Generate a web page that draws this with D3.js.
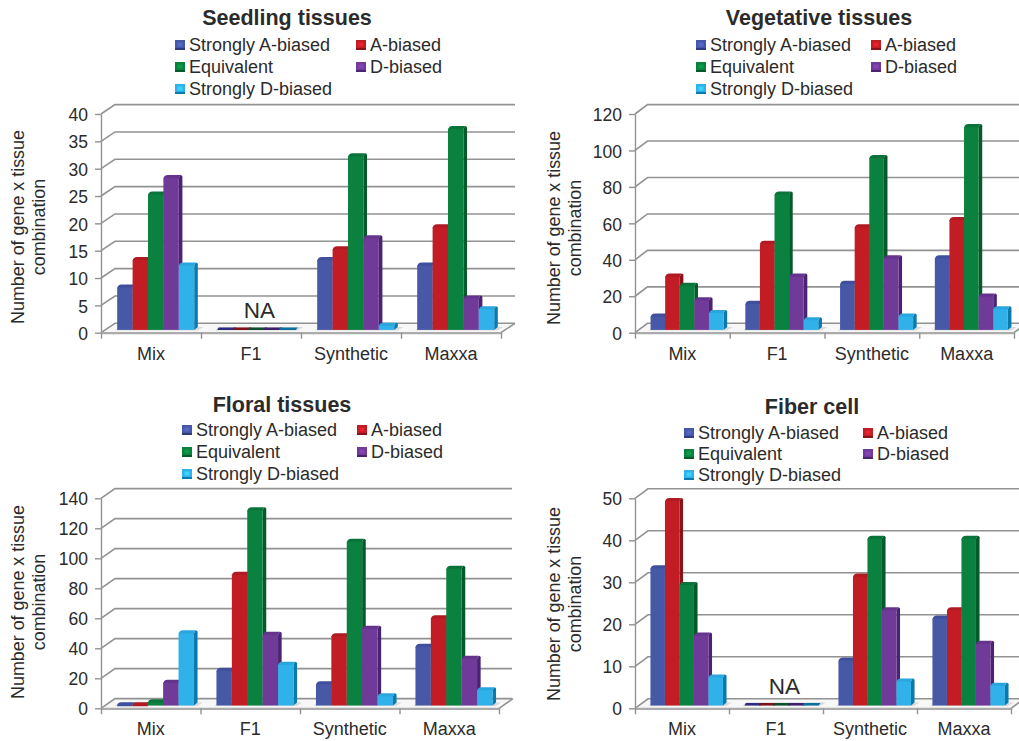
<!DOCTYPE html>
<html>
<head>
<meta charset="utf-8">
<script src="https://cdn.jsdelivr.net/npm/d3@7/dist/d3.min.js"></script>
<style>
html,body{margin:0;padding:0;background:#fff;}
svg{display:block;}
text{font-family:"Liberation Sans",Arial,sans-serif;fill:#2b2b2b;}
</style>
</head>
<body>
<svg id="chart" width="1019" height="741"></svg>
<script>
const categories = ["Mix", "F1", "Synthetic", "Maxxa"];
const seriesNames = ["Strongly A-biased", "A-biased", "Equivalent", "D-biased", "Strongly D-biased"];

// One row per category, one column per series.
const seedlingValues = [[8, 13, 25, 28, 12], [0, 0, 0, 0, 0], [13, 15, 32, 17, 1], [12, 19, 37, 6, 4]];
const vegetativeValues = [[8, 30, 25, 17, 10], [15, 48, 75, 30, 6], [26, 57, 95, 40, 8], [40, 61, 112, 19, 12]];
const floralValues = [[1, 1, 3, 16, 49], [24, 88, 131, 48, 28], [15, 47, 110, 52, 7], [40, 59, 92, 32, 11]];
const fiberValues = [[33, 49, 29, 17, 7], [0, 0, 0, 0, 0], [11, 31, 40, 23, 6], [21, 23, 40, 15, 5]];

const seedlingTicks = [0, 5, 10, 15, 20, 25, 30, 35, 40];
const vegetativeTicks = [0, 20, 40, 60, 80, 100, 120];
const floralTicks = [0, 20, 40, 60, 80, 100, 120, 140];
const fiberTicks = [0, 10, 20, 30, 40, 50];

const axisTitleLines = ["Number of gene x tissue", "combination"];

const fronts = ["#4658a6", "#c21d25", "#0a813f", "#703a99", "#30b1e9"];
const sides = ["#2e3b7e", "#8a1319", "#055a2b", "#4a2372", "#0a79ad"];
const caps = ["#3f4f9b", "#b01a22", "#0a7339", "#64338b", "#2aa6dd"];
const flats = ["#2d2a80", "#7d1018", "#0d4f2c", "#3f1f6b", "#0a6f9c"];

const panels = [
  { title: "Seedling tissues", values: seedlingValues, ticks: seedlingTicks, na: true,
    x0: 101, x1: 501, y0: 332.7, yTop: 114, dx: 14, dy: 9.4, gridEnd: 515, barW: 15.4,
    titleX: 287, titleY: 25, titleLabelX: [18.5, 40], titleLabelY: 227,
    swatch: [175, 356], legendY: [45, 67, 89], catY: 360 },
  { title: "Vegetative tissues", values: vegetativeValues, ticks: vegetativeTicks, na: false,
    x0: 635, x1: 1014, y0: 332.7, yTop: 114, dx: 12.5, dy: 9.4, gridEnd: 1019, barW: 14.6,
    titleX: 819, titleY: 25, titleLabelX: [554.5, 576], titleLabelY: 228,
    swatch: [696, 871], legendY: [45, 67, 89], catY: 360 },
  { title: "Floral tissues", values: floralValues, ticks: floralTicks, na: false,
    x0: 101, x1: 499, y0: 708.3, yTop: 498.3, dx: 14, dy: 9.7, gridEnd: 512, barW: 15.4,
    titleX: 282, titleY: 412, titleLabelX: [18.5, 40], titleLabelY: 602,
    swatch: [182, 357], legendY: [430, 452, 474], catY: 735 },
  { title: "Fiber cell", values: fiberValues, ticks: fiberTicks, na: true,
    x0: 635, x1: 1011, y0: 708.3, yTop: 498.3, dx: 13, dy: 9.5, gridEnd: 1019, barW: 14.5,
    titleX: 812, titleY: 414, titleLabelX: [554.5, 576], titleLabelY: 604,
    swatch: [684, 863], legendY: [433, 454, 475], catY: 735 }
];

const svg = d3.select("#chart");
const GRID = "#929292";
const FRONT_AXIS = "#ababab";

// Column with a rounded lid and a shaded right-hand face.
function drawBar(g, x, w, top, base, i, flat) {
  const sd = 3.6, lid = 3;
  if (flat) {
    const p = d3.path();
    p.moveTo(x, base);
    p.lineTo(x + 1.4, base - lid + 0.6);
    p.lineTo(x + w + sd, base - lid + 0.6);
    p.lineTo(x + w + 1.6, base);
    p.closePath();
    g.append("path").attr("d", p.toString()).attr("fill", flats[i]);
    return;
  }
  const side = d3.path();
  side.moveTo(x + w, base);
  side.lineTo(x + w + sd, base - lid);
  side.lineTo(x + w + sd, top - lid + 1.5);
  side.quadraticCurveTo(x + w + sd, top - lid, x + w + sd - 2, top - lid);
  side.lineTo(x + w, top);
  side.closePath();
  g.append("path").attr("d", side.toString()).attr("fill", sides[i]);

  const cap = d3.path();
  cap.moveTo(x, top + 1);
  cap.quadraticCurveTo(x + 0.5, top - lid, x + 4.5, top - lid);
  cap.lineTo(x + w + sd - 2, top - lid);
  cap.lineTo(x + w, top);
  cap.lineTo(x + w, top + 1);
  cap.closePath();
  g.append("path").attr("d", cap.toString()).attr("fill", caps[i]);

  g.append("rect")
    .attr("x", x).attr("y", top).attr("width", w).attr("height", Math.max(0, base - top))
    .attr("fill", fronts[i]);
}

function drawPanel(cfg) {
  const g = svg.append("g");
  const maxTick = d3.max(cfg.ticks);
  const y = d3.scaleLinear().domain([0, maxTick]).range([cfg.y0, cfg.yTop]);
  const xBand = d3.scaleBand().domain(categories).range([cfg.x0, cfg.x1]);
  const xEdge = d3.scaleLinear().domain([0, categories.length]).range([cfg.x0, cfg.x1]);
  const inner = d3.scaleBand().domain(d3.range(seriesNames.length))
    .range([0, cfg.barW * seriesNames.length]);

  // Floor of the box, lightly tinted.
  const floorShape = d3.line()([
    [cfg.x0, cfg.y0], [cfg.x1, cfg.y0],
    [cfg.x1 + cfg.dx, cfg.y0 - cfg.dy], [cfg.x0 + cfg.dx, cfg.y0 - cfg.dy]
  ]) + "Z";
  g.append("path").attr("d", floorShape).attr("fill", "#f7f7f7");

  // Back-wall gridlines with their diagonal run-ins from the value axis.
  cfg.ticks.forEach(t => {
    const py = y(t);
    g.append("path")
      .attr("d", d3.line()([[cfg.x0, py], [cfg.x0 + cfg.dx, py - cfg.dy], [cfg.gridEnd, py - cfg.dy]]))
      .attr("fill", "none").attr("stroke", GRID).attr("stroke-width", 1.6);
  });
  g.append("path")
    .attr("d", d3.line()([[cfg.x1, cfg.y0], [cfg.x1 + cfg.dx, cfg.y0 - cfg.dy]]))
    .attr("fill", "none").attr("stroke", GRID).attr("stroke-width", 1.6);

  // Value axis.
  const yAxis = g.append("g")
    .attr("transform", `translate(${cfg.x0},0)`)
    .call(d3.axisLeft(y).tickValues(cfg.ticks).tickSize(6).tickPadding(7).tickSizeOuter(0));
  yAxis.selectAll("path,line").attr("stroke", GRID).attr("stroke-width", 1.4);
  yAxis.selectAll("text").attr("font-size", 17.5).attr("fill", "#2b2b2b").attr("dy", "0.38em")
    .style("font-family", '"Liberation Sans",Arial,sans-serif');

  // Category axis: the labels sit mid-band, tick marks on the band edges.
  const edgeAxis = g.append("g")
    .attr("transform", `translate(0,${cfg.y0})`)
    .call(d3.axisBottom(xEdge).tickValues(d3.range(categories.length + 1)).tickSize(6)
      .tickFormat("").tickSizeOuter(0));
  edgeAxis.selectAll("path").attr("stroke", FRONT_AXIS).attr("stroke-width", 2.2);
  edgeAxis.selectAll("line").attr("stroke", GRID).attr("stroke-width", 1.4);

  const catAxis = g.append("g")
    .attr("transform", `translate(0,${cfg.catY - 13})`)
    .call(d3.axisBottom(xBand).tickSize(0).tickPadding(0));
  catAxis.select("path").remove();
  catAxis.selectAll("text").attr("font-size", 18).attr("fill", "#2b2b2b").attr("dy", "0.71em")
    .style("font-family", '"Liberation Sans",Arial,sans-serif');

  // Columns.
  const base = cfg.y0 - 2.8;
  const totalW = cfg.barW * seriesNames.length;
  cfg.values.forEach((row, c) => {
    const startX = xBand(categories[c]) + (xBand.bandwidth() - totalW) / 2 + 4.7;
    const gc = g.append("g");
    // Soft shadow on the floor around each cluster.
    gc.append("path")
      .attr("d", d3.line()([
        [startX - 2, base + 0.5], [startX + totalW + 3, base + 0.5],
        [startX + totalW + 9, base - 3], [startX + 2, base - 3]
      ]) + "Z")
      .attr("fill", "#d9d9d9");
    row.forEach((v, i) => {
      const top = Math.min(base, y(v) - 1.5);
      drawBar(gc, startX + inner(i), inner.bandwidth(), top, base, i, v === 0);
    });
  });

  // Clusters with no measurement are flagged on the chart.
  if (cfg.na) {
    g.append("text")
      .attr("x", xBand("F1") + xBand.bandwidth() / 2 + 8.5)
      .attr("y", cfg.y0 - 14.5)
      .attr("text-anchor", "middle")
      .attr("font-size", 22.5)
      .text("NA");
  }

  // Heading.
  g.append("text")
    .attr("x", cfg.titleX).attr("y", cfg.titleY)
    .attr("text-anchor", "middle").attr("font-weight", "bold").attr("font-size", 21.5)
    .text(cfg.title);

  // Rotated value-axis caption.
  axisTitleLines.forEach((line, k) => {
    g.append("text")
      .attr("transform", `translate(${cfg.titleLabelX[k] + 5},${cfg.titleLabelY}) rotate(-90)`)
      .attr("text-anchor", "middle").attr("font-size", 17.9)
      .text(line);
  });

  // Legend: three rows in two columns.
  seriesNames.forEach((name, i) => {
    const col = i % 2, row = Math.floor(i / 2);
    const sx = cfg.swatch[col], sy = cfg.legendY[row];
    const sw = g.append("g");
    sw.append("rect").attr("x", sx).attr("y", sy - 5).attr("width", 10).attr("height", 10).attr("fill", fronts[i]);
    sw.append("rect").attr("x", sx + 2.5).attr("y", sy - 2.5).attr("width", 5).attr("height", 4)
      .attr("fill", d3.color(fronts[i]).brighter(0.5));
    sw.append("rect").attr("x", sx).attr("y", sy + 3).attr("width", 10).attr("height", 2).attr("fill", sides[i]);
    g.append("text")
      .attr("x", sx + 14).attr("y", sy + 6)
      .attr("font-size", 18)
      .text(name);
  });
}

panels.forEach(drawPanel);
</script>
</body>
</html>
